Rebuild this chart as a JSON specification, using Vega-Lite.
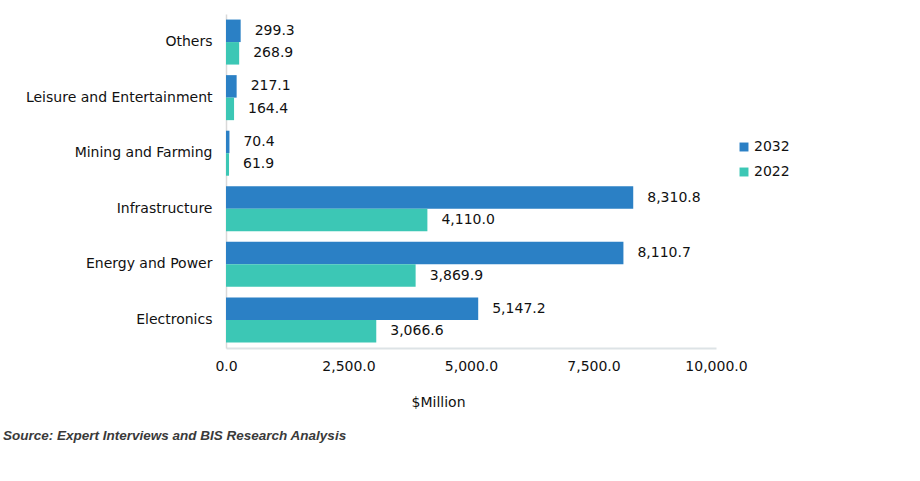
{
  "$schema": "https://vega.github.io/schema/vega-lite/v6.json",
  "width": 490,
  "height": 334,
  "autosize": {"type": "none"},
  "padding": {"left": 226, "top": 14, "right": 204, "bottom": 133},
  "background": "white",
  "config": {"view": {"stroke": null}, "font": "DejaVu Sans"},
  "title": {
    "text": "Source: Expert Interviews and BIS Research Analysis",
    "orient": "bottom",
    "anchor": "start",
    "frame": "group",
    "dx": -223,
    "offset": 20,
    "fontSize": 13.5,
    "fontStyle": "italic",
    "fontWeight": "bold",
    "color": "#3a3a3a",
    "font": "Liberation Sans"
  },
  "data": {
    "values": [
      {"segment": "Others", "year": "2032", "value": 299.3},
      {"segment": "Others", "year": "2022", "value": 268.9},
      {"segment": "Leisure and Entertainment", "year": "2032", "value": 217.1},
      {"segment": "Leisure and Entertainment", "year": "2022", "value": 164.4},
      {"segment": "Mining and Farming", "year": "2032", "value": 70.4},
      {"segment": "Mining and Farming", "year": "2022", "value": 61.9},
      {"segment": "Infrastructure", "year": "2032", "value": 8310.8},
      {"segment": "Infrastructure", "year": "2022", "value": 4110.0},
      {"segment": "Energy and Power", "year": "2032", "value": 8110.7},
      {"segment": "Energy and Power", "year": "2022", "value": 3869.9},
      {"segment": "Electronics", "year": "2032", "value": 5147.2},
      {"segment": "Electronics", "year": "2022", "value": 3066.6}
    ]
  },
  "encoding": {
    "y": {
      "field": "segment",
      "type": "nominal",
      "sort": ["Others", "Leisure and Entertainment", "Mining and Farming", "Infrastructure", "Energy and Power", "Electronics"],
      "scale": {"paddingInner": 0.19, "paddingOuter": 0.1},
      "axis": {
        "title": null,
        "ticks": false,
        "labelPadding": 14,
        "labelLimit": 300,
        "labelFontSize": 14,
        "labelColor": "#111111",
        "labelFont": "DejaVu Sans",
        "domainColor": "#d9d9d9",
        "domainWidth": 1.5
      }
    },
    "yOffset": {
      "field": "year",
      "type": "nominal",
      "sort": ["2032", "2022"],
      "scale": {"paddingInner": 0}
    },
    "x": {
      "field": "value",
      "type": "quantitative",
      "scale": {"domain": [0, 10000], "nice": false},
      "axis": {
        "values": [0, 2500, 5000, 7500, 10000],
        "format": ",.1f",
        "grid": false,
        "ticks": false,
        "labelFlush": false,
        "labelPadding": 11,
        "labelFontSize": 14,
        "labelColor": "#111111",
        "labelFont": "DejaVu Sans",
        "domainColor": "#dde3e6",
        "domainWidth": 2,
        "title": "$Million",
        "titleFontSize": 14,
        "titleFontWeight": "normal",
        "titleColor": "#111111",
        "titleFont": "DejaVu Sans",
        "titleX": 212,
        "titleY": 47
      }
    }
  },
  "layer": [
    {
      "mark": {"type": "bar"},
      "encoding": {
        "color": {
          "field": "year",
          "type": "nominal",
          "sort": ["2032", "2022"],
          "scale": {"domain": ["2032", "2022"], "range": ["#2b80c5", "#3cc7b5"]},
          "legend": {
            "title": null,
            "orient": "none",
            "legendX": 511,
            "legendY": 126,
            "symbolType": "square",
            "symbolSize": 80,
            "labelFontSize": 14,
            "labelColor": "#111111",
            "labelFont": "DejaVu Sans",
            "rowPadding": 11,
            "labelOffset": 3
          }
        }
      }
    },
    {
      "mark": {"type": "text", "align": "left", "baseline": "middle", "dx": 14, "fontSize": 14, "color": "#111111", "font": "DejaVu Sans"},
      "encoding": {
        "text": {"field": "value", "type": "quantitative", "format": ",.1f"}
      }
    }
  ]
}
